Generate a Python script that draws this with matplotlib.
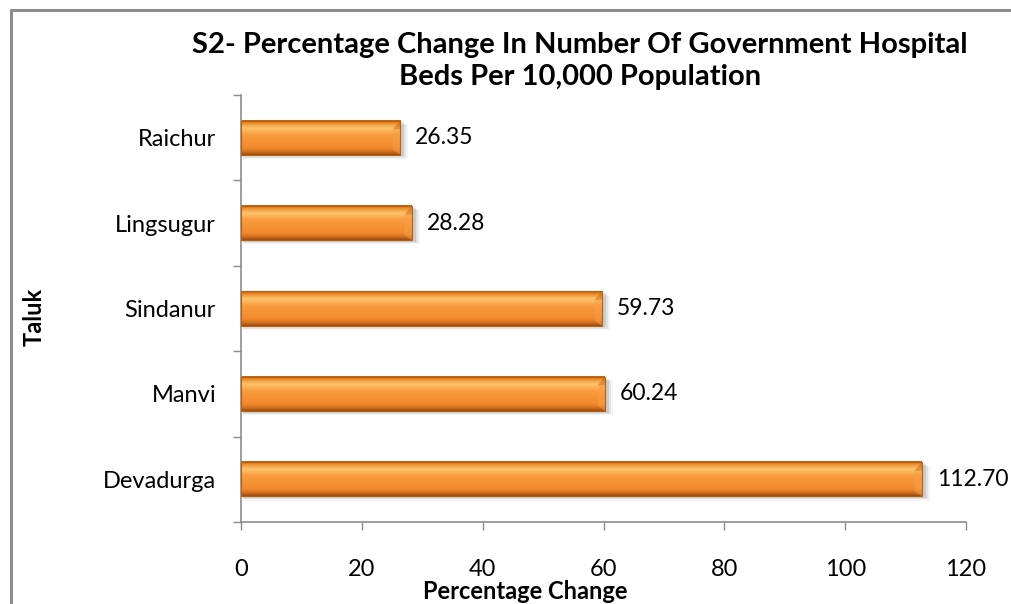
import matplotlib.pyplot as plt
import numpy as np
from matplotlib.colors import LinearSegmentedColormap
from matplotlib.patches import Rectangle

taluks = ["Devadurga", "Manvi", "Sindanur", "Lingsugur", "Raichur"]
pct_change = [112.70, 60.24, 59.73, 28.28, 26.35]

plt.rcParams['font.family'] = ['Lato', 'DejaVu Sans']

W, H = 1011, 604
fig = plt.figure(figsize=(W / 100, H / 100), dpi=100)
ax = fig.add_axes([241 / W, 1 - 522 / H, (966 - 241) / W, (522 - 95) / H])

# frame round the whole chart (runs off right and bottom)
fig.patches.append(Rectangle((11 / W, -0.1), 1.2, 1 - 10 / H + 0.1,
                             transform=fig.transFigure, fill=False,
                             edgecolor='#8c8c8c', linewidth=2.2))

ypos = np.arange(len(taluks))
bars = ax.barh(ypos, pct_change, height=0.4, color='none', edgecolor='none')

shade = LinearSegmentedColormap.from_list('bar', [
    (0.0, '#c0600f'), (0.08, '#ec8a2a'), (0.22, '#fdc56e'),
    (0.42, '#f99c3e'), (0.8, '#f28a2c'), (0.93, '#c86a1c'), (1.0, '#9a4a10')])
grad = np.linspace(0, 1, 100).reshape(-1, 1)

for b in bars:
    x0, y0, w, h = b.get_x(), b.get_y(), b.get_width(), b.get_height()
    # soft drop shadow
    for k, a in enumerate([0.10, 0.07, 0.04]):
        d = 0.02 + k * 0.015
        ax.add_patch(Rectangle((x0 + 0.3, y0 - d), w + 0.4 + k * 0.3, h,
                               facecolor='#000000', alpha=a, edgecolor='none',
                               zorder=1))
    ax.imshow(grad, extent=(x0, x0 + w, y0, y0 + h), aspect='auto',
              cmap=shade, vmin=0, vmax=1, zorder=2, interpolation='bicubic')
    # bevelled right end
    e = 1.2
    ax.fill([x0 + w, x0 + w - e, x0 + w],
            [y0 + h, y0 + h * 0.75, y0 + h * 0.75],
            color='#c8661a', alpha=0.55, zorder=3, linewidth=0)
    ax.fill([x0 + w, x0 + w - e, x0 + w - e, x0 + w],
            [y0 + h * 0.75, y0 + h * 0.75, y0 + h * 0.15, y0],
            color='#f7a04a', alpha=0.5, zorder=3, linewidth=0)
    ax.add_patch(Rectangle((x0, y0), w, h, fill=False, edgecolor='#b86012',
                           linewidth=0.8, zorder=4))
    ax.text(x0 + w + 2.5, y0 + h / 2, f"{w:.2f}", va='center', ha='left',
            fontsize=16.5, color='#000000', zorder=5)

ax.set_xlim(0, 120)
ax.set_ylim(-0.5, len(taluks) - 0.5)
ax.set_xticks(np.arange(0, 121, 20))
ax.set_yticks(ypos)
ax.set_yticklabels(taluks)
ax.set_yticks(np.arange(-0.5, len(taluks), 1), minor=True)
ax.tick_params(axis='y', which='major', length=0, pad=18, labelsize=17)
ax.tick_params(axis='y', which='minor', length=6, color='#8c8c8c', width=1)
ax.tick_params(axis='x', length=6, color='#8c8c8c', width=1, pad=21,
               labelsize=17)

for side in ['top', 'right']:
    ax.spines[side].set_visible(False)
for side in ['left', 'bottom']:
    ax.spines[side].set_color('#8c8c8c')
    ax.spines[side].set_linewidth(1.2)
ax.set_facecolor('none')

fig.text(580 / W, 1 - 45 / H,
         "S2- Percentage Change In Number Of Government Hospital",
         ha='center', va='center', fontsize=21, fontweight='bold')
fig.text(580 / W, 1 - 77 / H, "Beds Per 10,000 Population",
         ha='center', va='center', fontsize=21, fontweight='bold')
fig.text(525 / W, 1 - 603 / H, "Percentage Change", ha='center',
         va='bottom', fontsize=17, fontweight='bold')
fig.text(34 / W, 1 - 317 / H, "Taluk", ha='center', va='center',
         rotation=90, fontsize=17, fontweight='bold')

fig.savefig("out.png", dpi=100)
